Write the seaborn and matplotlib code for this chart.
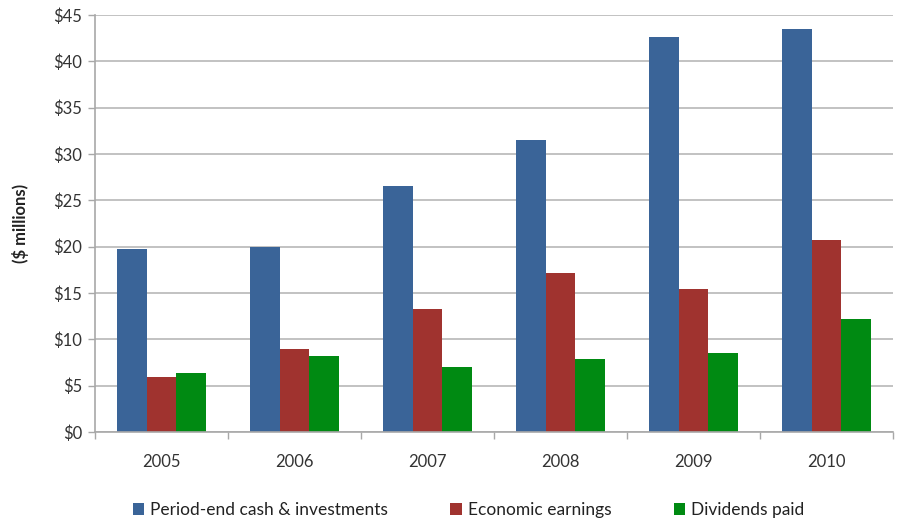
import matplotlib
matplotlib.use("Agg")
import matplotlib.pyplot as plt
import matplotlib.ticker as mticker
import numpy as np
import pandas as pd
import seaborn as sns

years = ["2005", "2006", "2007", "2008", "2009", "2010"]
series_names = ["Period-end cash & investments", "Economic earnings", "Dividends paid"]
cash_investments = [19.7, 20.0, 26.6, 31.5, 42.6, 43.5]
economic_earnings = [5.9, 9.0, 13.3, 17.2, 15.4, 20.7]
dividends_paid = [6.4, 8.2, 7.0, 7.9, 8.5, 12.2]
y_ticks = [0, 5, 10, 15, 20, 25, 30, 35, 40, 45]

colors = ["#3A6498", "#A0332F", "#008A12"]

df = pd.DataFrame({
    "year": years * 3,
    "series": [s for s in series_names for _ in years],
    "value": cash_investments + economic_earnings + dividends_paid,
})

sns.set_theme(style="white")
plt.rcParams["font.family"] = ["Lato", "DejaVu Sans"]

fig = plt.figure(figsize=(8.98, 5.25), dpi=100)
ax = fig.add_axes([0.1058, 0.177, 0.8886, 0.7944])

sns.barplot(data=df, x="year", y="value", hue="series", order=years,
            hue_order=series_names, palette=colors, width=0.675, gap=0,
            saturation=1, ax=ax, legend=True, linewidth=0)

ax.set_ylim(0, 45)
ax.set_xlim(-0.5, len(years) - 0.5)
ax.set_yticks(y_ticks)
ax.yaxis.set_major_formatter(mticker.FuncFormatter(lambda v, p: f"${v:.0f}"))
ax.yaxis.grid(True, color="#BDBDBD", linewidth=1.3)
ax.set_axisbelow(True)

ax.set_xlabel("")
ax.set_ylabel("($ millions)", fontsize=12, fontweight="bold", color="#222222", labelpad=18)

for side in ["top", "right"]:
    ax.spines[side].set_visible(False)
for side in ["left", "bottom"]:
    ax.spines[side].set_color("#A8A8A8")
    ax.spines[side].set_linewidth(1.2)

ax.tick_params(axis="y", which="major", length=5, width=1, color="#A8A8A8",
               labelsize=12, labelcolor="#333333", pad=4, left=True)
ax.tick_params(axis="x", which="major", length=0, labelsize=12,
               labelcolor="#333333", pad=16)
ax.set_xticks(np.arange(-0.5, len(years) + 0.5, 1.0), minor=True)
ax.tick_params(axis="x", which="minor", length=5, width=1, color="#A8A8A8", bottom=True)

handles, labels = ax.get_legend_handles_labels()
ax.legend(handles, labels, loc="upper center", bbox_to_anchor=(0.468, -0.13),
          ncol=3, frameon=False, fontsize=12.5, handlelength=0.65, handleheight=0.65,
          handletextpad=0.35, columnspacing=3.6, labelcolor="#222222")

fig.savefig("out.png", dpi=100)
